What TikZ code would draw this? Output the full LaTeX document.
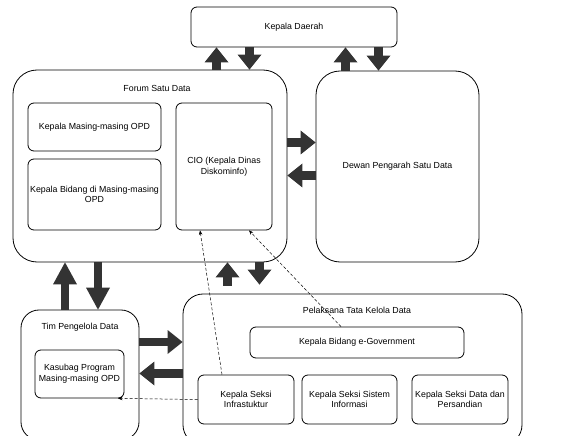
\documentclass[tikz,border=0pt]{standalone}
\usepackage{fontspec}
\setmainfont{Liberation Sans}
\usetikzlibrary{arrows.meta,positioning}

\begin{document}
\begin{tikzpicture}[x=1pt,y=-1pt,line width=0.8pt,
    font=\fontsize{8.8}{10.6}\selectfont,
    box/.style={draw,rounded corners=6pt,align=center,inner sep=1pt},
    group/.style={draw,rounded corners=24pt},
    fat/.style={draw=black!80,line width=8.5pt,-{Triangle[width=24pt,length=15pt,line width=0pt]}},
    fatlong/.style={draw=black!80,line width=8.5pt,-{Triangle[width=24pt,length=22pt,line width=0pt]}},
    dashlink/.style={densely dashed,line width=0.5pt,-{Stealth[length=4.5pt,width=3.5pt]}}]
    \useasboundingbox (0,0) rectangle (566,436);

    % top level
    \node[box] (daerah) at (294,27) [minimum width=206pt,minimum height=40pt] {Kepala Daerah};
    \node[group] (forum) at (150,166) [minimum width=274pt,minimum height=192pt] {};
    \node (forumlbl) at (157,88) {Forum Satu Data};
    \node[group,align=center] (dewan) at (397.5,166.5) [minimum width=163pt,minimum height=191pt] {Dewan Pengarah Satu Data};

    % inside forum
    \node[box] (opd) at (94.5,127) [minimum width=133pt,minimum height=48pt] {Kepala Masing-masing OPD};
    \node[box] (bidang) at (94.5,194.5) [minimum width=133pt,minimum height=71pt] {Kepala Bidang di Masing-masing\\OPD};
    \node[box] (cio) at (224,166.5) [minimum width=96pt,minimum height=127pt] {CIO (Kepala Dinas\\Diskominfo)};

    % tim pengelola
    \node[group,rounded corners=18pt] (tim) at (80,375) [minimum width=118pt,minimum height=130pt] {};
    \node (timlbl) at (80,327) {Tim Pengelola Data};
    \node[box] (kasubag) at (79.5,374) [minimum width=89pt,minimum height=48pt] {Kasubag Program\\Masing-masing OPD};

    % pelaksana
    \node[group,rounded corners=20pt] (pelaksana) at (352.5,369.5) [minimum width=339pt,minimum height=151pt] {};
    \node (pelaksanalbl) at (357,310) {Pelaksana Tata Kelola Data};
    \node[box] (egov) at (357,342.5) [minimum width=214pt,minimum height=31pt] {Kepala Bidang e-Government};
    \node[box] (infra) at (246,399.5) [minimum width=96pt,minimum height=49pt] {Kepala Seksi\\Infrastuktur};
    \node[box] (sisinfo) at (349.5,399.5) [minimum width=95pt,minimum height=49pt] {Kepala Seksi Sistem\\Informasi};
    \node[box] (sandi) at (460,399.5) [minimum width=96pt,minimum height=49pt] {Kepala Seksi Data dan\\Persandian};

    % block arrows
    \draw[fat] (forum.north -| 216.5,0) -- (daerah.south -| 216.5,0);
    \draw[fat] (daerah.south -| 249.5,0) -- (forum.north -| 249.5,0);
    \draw[fat] (dewan.north -| 345.5,0) -- (daerah.south -| 345.5,0);
    \draw[fat] (daerah.south -| 378.5,0) -- (dewan.north -| 378.5,0);
    \draw[fat] (forum.east |- 0,142.5) -- (dewan.west |- 0,142.5);
    \draw[fat] (dewan.west |- 0,175.5) -- (forum.east |- 0,175.5);
    \draw[fatlong] (tim.north -| 65,0) -- (forum.south -| 65,0);
    \draw[fatlong] (forum.south -| 98,0) -- (tim.north -| 98,0);
    \draw[fat,shorten <=8pt] (pelaksana.north -| 227.5,0) -- (forum.south -| 227.5,0);
    \draw[fat,shorten >=9pt] (forum.south -| 259.5,0) -- (pelaksana.north -| 259.5,0);
    \draw[fat] (tim.east |- 0,342) -- (pelaksana.west |- 0,342);
    \draw[fat] (pelaksana.west |- 0,373.5) -- (tim.east |- 0,373.5);

    % dashed links
    \draw[dashlink] (infra.north -| 222,0) -- (cio.south -| 200,0);
    \draw[dashlink] (egov.north -| 341,0) -- (cio.south -| 249,0);
    \draw[dashlink] (infra.west) -- (kasubag.south -| 118,0);
\end{tikzpicture}
\end{document}
